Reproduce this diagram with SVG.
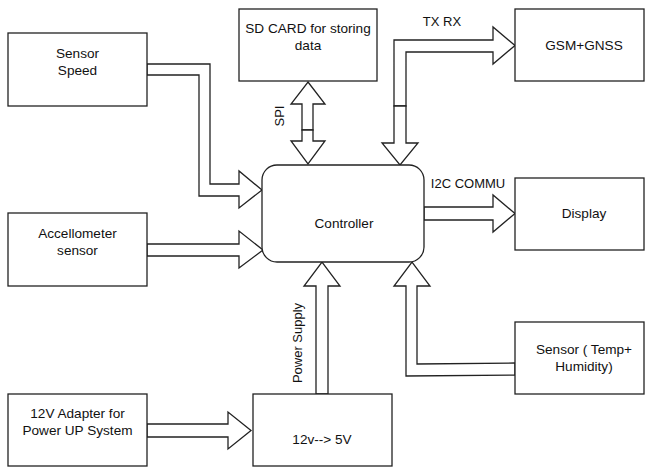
<svg xmlns="http://www.w3.org/2000/svg" width="650" height="468" viewBox="0 0 650 468">
<style>
.box{fill:#fff;stroke:#222;stroke-width:1.3}
.arr{fill:#fff;stroke:#222;stroke-width:1.3;stroke-linejoin:miter}
.t{font-family:"Liberation Sans",Arial,sans-serif;font-size:13.6px;fill:#111;text-anchor:middle}
.l{font-family:"Liberation Sans",Arial,sans-serif;font-size:13px;fill:#111;text-anchor:middle}
</style>
<rect width="650" height="468" fill="#fff"/>
<g id="connectors">
<polygon class="arr" points="147,64 210,64 210,184 239,184 239,171 262,190 239,208 239,196 199,196 199,75 147,75"/>
<polygon class="arr" points="147,244 239,244 239,231 263,250 239,268 239,256 147,256"/>
<polygon class="arr" points="308,82 325,104 313,104 313,130 302,130 302,104 291,104"/>
<polygon class="arr" points="302,130 313,130 313,141 325,141 308,164 291,141 302,141"/>
<polygon class="arr" points="394,106 394,40 493,40 493,27 515,45.5 493,64 493,52 406,52 406,106"/>
<polygon class="arr" points="394,106 406,106 406,143 418,143 400,165 382,143 394,143"/>
<polygon class="arr" points="424,207 493,207 493,195 515,213.5 493,232 493,220 424,220"/>
<polygon class="arr" points="515,363 417,364 417,286 430,286 412,262 394,286 406,286 406,376 515,375"/>
<polygon class="arr" points="316,394 316,286 304,286 322,262 340,286 328,286 328,394"/>
<polygon class="arr" points="147,424 228,424 228,412 251,430.5 228,449 228,437 147,437"/>
<text class="l" x="442" y="26">TX RX</text>
<text class="l" x="468" y="188">I2C COMMU</text>
<text class="l" transform="translate(284,116) rotate(-90)">SPI</text>
<text class="l" transform="translate(301.5,343) rotate(-90)">Power Supply</text>
</g>
<g id="sensor-speed"><rect class="box" x="8" y="33" width="139" height="73"/><text class="t" x="77.5" y="58">Sensor</text><text class="t" x="77.5" y="75">Speed</text></g>
<g id="sd-card"><rect class="box" x="239" y="9" width="138" height="72"/><text class="t" x="308" y="33">SD CARD for storing</text><text class="t" x="308" y="50">data</text></g>
<g id="gsm"><rect class="box" x="515" y="9" width="129" height="72"/><text class="t" x="584" y="50">GSM+GNSS</text></g>
<g id="controller"><rect class="box" x="262" y="165" width="162" height="97" rx="15" ry="15"/><text class="t" x="344" y="228">Controller</text></g>
<g id="display"><rect class="box" x="515" y="178" width="129" height="72"/><text class="t" x="584" y="218">Display</text></g>
<g id="accel"><rect class="box" x="8" y="213" width="139" height="73"/><text class="t" x="77.5" y="238">Accellometer</text><text class="t" x="77.5" y="255">sensor</text></g>
<g id="temp"><rect class="box" x="515" y="322" width="129" height="72"/><text class="t" x="584" y="354">Sensor ( Temp+</text><text class="t" x="584" y="371">Humidity)</text></g>
<g id="adapter"><rect class="box" x="8" y="394" width="139" height="72"/><text class="t" x="77.5" y="418">12V Adapter for</text><text class="t" x="77.5" y="435">Power UP System</text></g>
<g id="converter"><rect class="box" x="253" y="394" width="139" height="72"/><text class="t" x="322" y="444">12v--&gt; 5V</text></g>
</svg>
